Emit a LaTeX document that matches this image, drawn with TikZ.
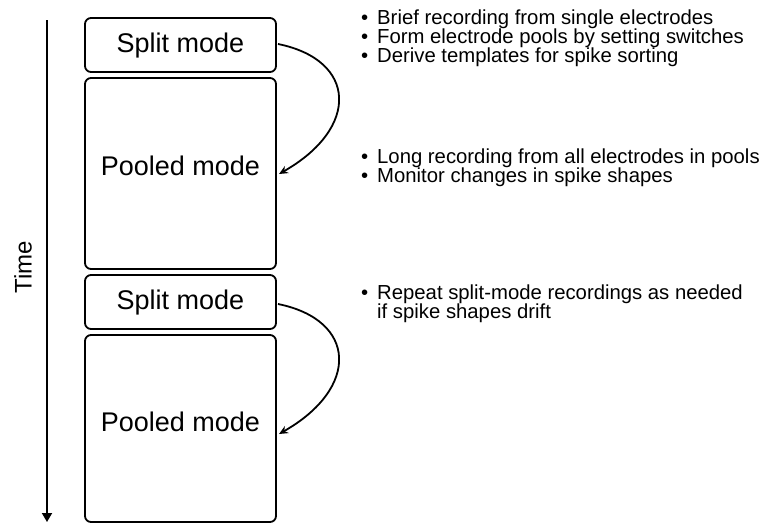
\documentclass[tikz,border=0pt]{standalone}
\usepackage{fontspec}
\setmainfont{Liberation Sans}
\usetikzlibrary{arrows.meta}
\newcommand{\bul}{\makebox[17pt][l]{\hspace{1pt}•}}
\newcommand{\nobul}{\makebox[17pt][l]{}}
\begin{document}
\begin{tikzpicture}[x=1pt,y=-1pt,
  modebox/.style={draw,line width=1.8pt,rounded corners=6pt},
  modetext/.style={font=\fontsize{27}{30}\selectfont},
  bullettext/.style={anchor=north west,inner sep=0pt,font=\fontsize{20.3}{18.6}\selectfont,align=left},
  curvearrow/.style={line width=1.8pt,-{Stealth[length=9pt,width=8pt,inset=3pt]}}]
\useasboundingbox (0,0) rectangle (765,523);
% time axis
\coordinate (ttop) at (47,20);
\coordinate (tbot) at (47,522);
\draw[line width=1.8pt,-{Triangle[length=9pt,width=10pt]}] (ttop) -- (tbot);
\node[rotate=90,font=\fontsize{24}{28}\selectfont] (time) at (23,267) {Time};
% boxes
\draw[modebox] (85,18) rectangle (276,72);
\draw[modebox] (85,78) rectangle (276,269);
\draw[modebox] (85,275) rectangle (276,329);
\draw[modebox] (85,335) rectangle (276,522);
\node[modetext] (s1) at (180.5,46) {Split mode};
\node[modetext] (p1) at (180.5,166) {Pooled mode};
\node[modetext] (s2) at (180.5,303) {Split mode};
\node[modetext] (p2) at (180.5,422) {Pooled mode};
\coordinate (a1s) at (278,44);
\coordinate (a1e) at (279,174);
\coordinate (a2s) at (278,304);
\coordinate (a2e) at (279,434);
\draw[curvearrow] (a1s) .. controls (357,60) and (360,128) .. (a1e);
\draw[curvearrow] (a2s) .. controls (357,320) and (360,388) .. (a2e);
% bullets
\node[bullettext] (g1) at (360,10) {\bul Brief recording from single electrodes\\[-1pt]\bul Form electrode pools by setting switches\\[-1pt]\bul Derive templates for spike sorting};
\node[bullettext] (g2) at (360,149) {\bul Long recording from all electrodes in pools\\[-1pt]\bul Monitor changes in spike shapes};
\node[bullettext] (g3) at (360,285) {\bul Repeat split-mode recordings as needed\\[-1pt]\nobul if spike shapes drift};
\end{tikzpicture}
\end{document}
